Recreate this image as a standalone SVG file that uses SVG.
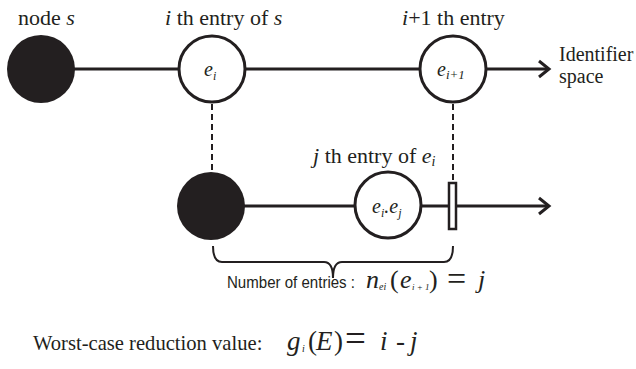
<svg xmlns="http://www.w3.org/2000/svg" width="636" height="369" viewBox="0 0 636 369">
<style>
.ln{stroke:#231f20;stroke-width:3;fill:none}
.dash{stroke:#231f20;stroke-width:2;stroke-dasharray:6,4;fill:none}
.full{fill:#231f20}
.open{fill:#fff;stroke:#231f20;stroke-width:3}
.serif{font-family:'Liberation Serif','Times New Roman',serif;font-size:20px;fill:#231f20}
.big{font-size:22px}
.ital{font-style:italic}
.sans{font-family:'Liberation Sans',Arial,sans-serif;font-size:16.5px;fill:#231f20}
</style>
<rect width="636" height="369" fill="#fff"/>
<g id="connectors">
<line class="ln" x1="41" y1="69" x2="548" y2="69"/>
<polyline class="ln" points="539,61 549,69 539,77"/>
<line class="ln" x1="211" y1="206" x2="548" y2="206"/>
<polyline class="ln" points="539,198 549,206 539,214"/>
<line class="dash" x1="212" y1="104" x2="212" y2="172"/>
<line class="dash" x1="453" y1="104" x2="453" y2="180"/>
<path class="ln" style="stroke-width:2" d="M213,246 Q213,262 222,262 L324,262 Q333,262 333,278 Q333,262 342,262 L444,262 Q453,262 453,246"/>
</g>
<g id="node-s">
<circle class="full" cx="41" cy="69" r="34"/>
<text class="serif big" x="18" y="25">node <tspan class="ital">s</tspan></text>
</g>
<g id="entry-i">
<circle class="open" cx="212" cy="69" r="33"/>
<text class="serif big" x="165" y="25"><tspan class="ital">i</tspan> th entry of <tspan class="ital">s</tspan></text>
<text class="serif ital" x="204" y="76">e<tspan style="font-size:12px" dy="4">i</tspan></text>
</g>
<g id="entry-i1">
<circle class="open" cx="453" cy="69" r="33"/>
<text class="serif big" x="402" y="25"><tspan class="ital">i</tspan>+1 th entry</text>
<text class="serif ital" x="437" y="76">e<tspan style="font-size:13px" dy="3">i+1</tspan></text>
</g>
<g id="identifier-label">
<text class="serif" x="559" y="61">Identifier</text>
<text class="serif" x="559" y="83">space</text>
</g>
<g id="node-ei">
<circle class="full" cx="211" cy="206" r="34"/>
</g>
<g id="entry-j">
<circle class="open" cx="388" cy="205" r="33"/>
<text class="serif ital" x="372" y="213">e<tspan style="font-size:12px" dy="4">i</tspan><tspan dy="-4">.e</tspan><tspan style="font-size:12px" dy="4">j</tspan></text>
<text class="serif big" x="313" y="163"><tspan class="ital">j</tspan> th entry of <tspan class="ital">e</tspan><tspan class="ital" style="font-size:14px" dy="3">i</tspan></text>
</g>
<g id="marker-bar">
<rect x="449" y="183" width="7" height="46" fill="#fff" stroke="#231f20" stroke-width="2.5"/>
</g>
<g id="count-label">
<text class="sans" x="227" y="288" textLength="128" lengthAdjust="spacingAndGlyphs">Number of entries :</text>
<text class="serif" y="288" style="font-size:26px"><tspan class="ital" x="366">n</tspan><tspan class="ital" x="379" y="290" style="font-size:10px">ei</tspan><tspan x="390" y="288">(</tspan><tspan class="ital" x="400">e</tspan><tspan class="ital" x="412" y="290" style="font-size:9px">i + 1</tspan><tspan x="429" y="288">)</tspan><tspan x="447" y="290" style="font-size:34px">=</tspan><tspan class="ital" x="478" y="288">j</tspan></text>
</g>
<g id="reduction-label">
<text class="serif" x="33" y="350" style="font-size:20.6px">Worst-case reduction value:</text>
<text class="serif" y="350" style="font-size:27px"><tspan class="ital" x="287">g</tspan><tspan class="ital" x="302" y="352" style="font-size:10px">i</tspan><tspan x="308" y="350">(</tspan><tspan class="ital" x="316">E</tspan><tspan x="334">)</tspan><tspan x="345" y="351" style="font-size:37px">=</tspan><tspan class="ital" x="380" y="350">i</tspan><tspan x="396">-</tspan><tspan class="ital" x="410">j</tspan></text>
</g>
</svg>
